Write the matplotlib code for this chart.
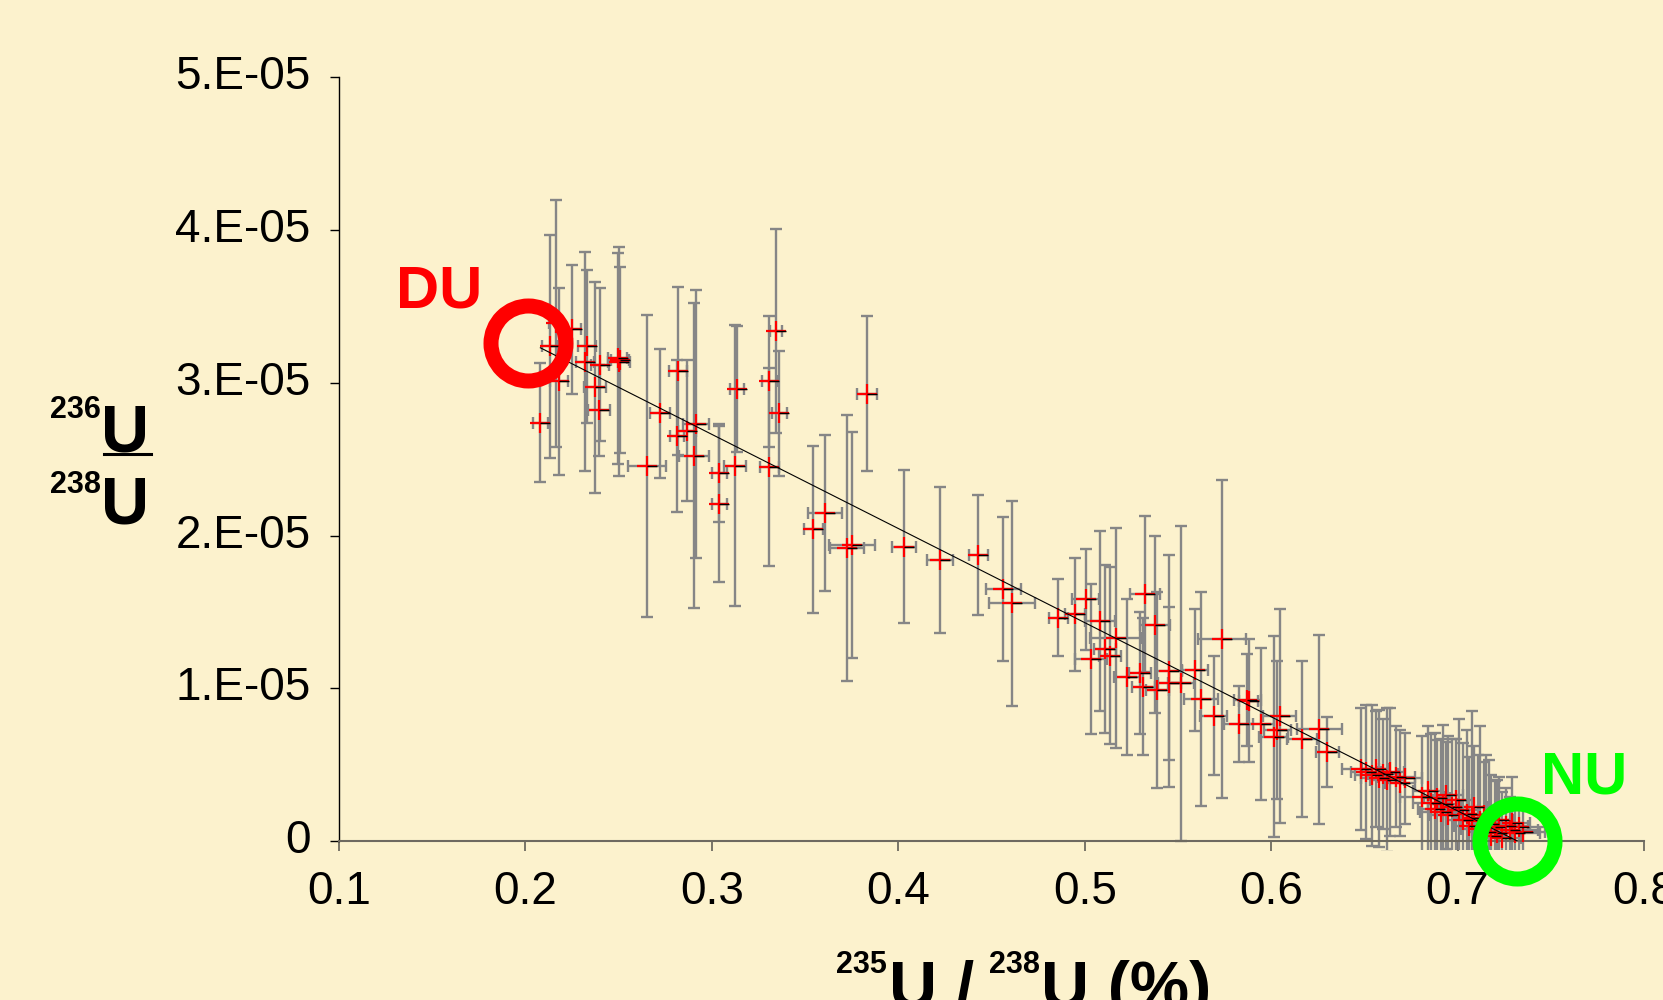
import numpy as np
import matplotlib
matplotlib.use("Agg")
import matplotlib.pyplot as plt
from matplotlib.lines import Line2D
from matplotlib.transforms import Bbox, TransformedBbox

plt.rcParams['font.family'] = ['Liberation Sans', 'DejaVu Sans']

# ---------------- data ----------------
# 235U/238U (%)
u235 = [0.208, 0.213, 0.2164, 0.218, 0.225, 0.233, 0.232, 0.240, 0.2373, 0.2395,
        0.2502, 0.2495, 0.2508, 0.2652, 0.2722, 0.2818, 0.2813, 0.2867, 0.2915, 0.2904,
        0.3039, 0.3039, 0.3124, 0.3135, 0.3307, 0.3309, 0.3344, 0.3362, 0.3831,
        0.3607, 0.3545, 0.3724, 0.3752, 0.4031, 0.4224, 0.443, 0.4564, 0.4609,
        0.4859, 0.4948, 0.5006, 0.5083, 0.5033, 0.5168, 0.5109, 0.5136, 0.5226, 0.5297,
        0.5324, 0.5315, 0.5378, 0.539, 0.5454, 0.5454, 0.5516, 0.5592, 0.5623, 0.5691,
        0.5736, 0.5825, 0.5873, 0.588, 0.5945, 0.6013, 0.6045, 0.6034, 0.6165, 0.6259, 0.6302,
        0.648, 0.651, 0.654, 0.656, 0.658, 0.660, 0.662, 0.664, 0.667, 0.669, 0.672,
        0.681, 0.684, 0.686, 0.688, 0.689, 0.691, 0.692, 0.694, 0.695, 0.697, 0.699,
        0.701, 0.703, 0.705, 0.706, 0.708, 0.709, 0.711, 0.712, 0.714, 0.715, 0.717,
        0.718, 0.720, 0.721, 0.722, 0.724,
        0.726, 0.728, 0.729, 0.731, 0.733, 0.735]
# 236U/238U in units of 1E-05
u236 = [2.74, 3.24, 3.39, 3.01, 3.35, 3.24, 3.14, 3.12, 2.97, 2.82,
        3.14, 3.16, 3.15, 2.456, 2.80, 3.08, 2.652, 2.687, 2.731, 2.523,
        2.412, 2.207, 2.456, 2.96, 3.01, 2.45, 3.34, 2.80, 2.93,
        2.146, 2.04, 1.917, 1.94, 1.927, 1.840, 1.873, 1.650, 1.557,
        1.463, 1.485, 1.583, 1.441, 1.192, 1.331, 1.257, 1.214, 1.076, 1.098,
        1.618, 1.011, 1.415, 0.989, 1.113, 1.033, 1.033, 1.12, 0.928, 0.819,
        1.321, 0.766, 0.923, 0.92, 0.766, 0.683, 0.819, 0.727, 0.666, 0.731, 0.585,
        0.47, 0.45, 0.43, 0.47, 0.41, 0.44, 0.40, 0.45, 0.42, 0.38, 0.41,
        0.29, 0.33, 0.25, 0.21, 0.28, 0.19, 0.24, 0.30, 0.17, 0.22, 0.27,
        0.20, 0.14, 0.18, 0.10, 0.15, 0.22, 0.08, 0.13, 0.17, 0.06, 0.11,
        0.03, 0.09, 0.05, 0.14, 0.02,
        0.10, 0.07, 0.12, 0.05, 0.09, 0.06]
u235_err = [0.004, 0.004, 0.004, 0.005, 0.005, 0.005, 0.005, 0.005, 0.006, 0.006,
            0.006, 0.005, 0.005, 0.010, 0.0055, 0.005, 0.004, 0.005, 0.007, 0.008,
            0.004, 0.004, 0.006, 0.004, 0.004, 0.005, 0.003, 0.004, 0.0054,
            0.009, 0.005, 0.009, 0.0125, 0.0063, 0.0072, 0.005, 0.0096, 0.0122,
            0.005, 0.0054, 0.0072, 0.008, 0.0085, 0.014, 0.006, 0.006, 0.007, 0.006,
            0.008, 0.006, 0.008, 0.006, 0.007, 0.006, 0.007, 0.007, 0.009, 0.007,
            0.013, 0.008, 0.007, 0.005, 0.007, 0.008, 0.009, 0.007, 0.008, 0.012, 0.006,
            0.010, 0.008, 0.009, 0.007, 0.010, 0.008, 0.009, 0.007, 0.010, 0.008, 0.009,
            0.012, 0.008, 0.010, 0.009, 0.007, 0.011, 0.008, 0.009, 0.010, 0.008, 0.009,
            0.010, 0.009, 0.011, 0.008, 0.010, 0.007, 0.009, 0.010, 0.008, 0.009, 0.011,
            0.008, 0.010, 0.009, 0.008, 0.010,
            0.012, 0.015, 0.010, 0.013, 0.016, 0.012]
u236_err = [0.39, 0.73, 0.81, 0.61, 0.42, 0.50, 0.72, 0.50, 0.69, 0.30,
            0.75, 0.69, 0.61, 0.99, 0.42, 0.55, 0.50, 0.46, 0.88, 1.00,
            0.32, 0.51, 0.92, 0.41, 0.43, 0.65, 0.67, 0.41, 0.51,
            0.51, 0.55, 0.87, 0.74, 0.50, 0.48, 0.39, 0.47, 0.67,
            0.25, 0.37, 0.33, 0.59, 0.49, 0.72, 0.55, 0.58, 0.51, 0.40,
            0.51, 0.45, 0.58, 0.64, 0.76, 0.50, 1.03, 0.40, 0.70, 0.39,
            1.04, 0.25, 0.30, 0.40, 0.50, 0.66, 0.70, 0.45, 0.51, 0.62, 0.23,
            0.40, 0.44, 0.46, 0.38, 0.45, 0.36, 0.47, 0.42, 0.33, 0.35, 0.30,
            0.40, 0.42, 0.45, 0.50, 0.38, 0.48, 0.52, 0.35, 0.52, 0.45, 0.40,
            0.60, 0.50, 0.55, 0.45, 0.70, 0.40, 0.48, 0.62, 0.35, 0.50, 0.42,
            0.40, 0.30, 0.35, 0.28, 0.30,
            0.25, 0.22, 0.30, 0.20, 0.18, 0.15]

# mixing line (trend line) end points
fit_x = [0.208, 0.732]
fit_y = [3.23, 0.0]

# reference compositions
du_pos = (0.2015, 3.26)
nu_pos = (0.732, 0.0)

x_ticks = [0.1, 0.2, 0.3, 0.4, 0.5, 0.6, 0.7, 0.8]
x_tick_labels = ['0.1', '0.2', '0.3', '0.4', '0.5', '0.6', '0.7', '0.8']
y_ticks = [0, 1, 2, 3, 4, 5]
y_tick_labels = ['0', '1.E-05', '2.E-05', '3.E-05', '4.E-05', '5.E-05']

# ---------------- figure ----------------
W, H = 1663, 1000
bg = '#FCF2CD'
fig = plt.figure(figsize=(W / 100, H / 100), dpi=100)
fig.patch.set_facecolor(bg)
ax_h = (841 - 77.5) / H
ax = fig.add_axes([339 / W, 1 - 841 / H, 1305 / W, ax_h])
ax.set_facecolor(bg)

# plot-area clip that lets marks spill ~9 px below the x axis, as in the original
clip_box = TransformedBbox(Bbox([[-0.02, -9.0 / (ax_h * H)], [1.02, 1.02]]), ax.transAxes)

eb = ax.errorbar(u235, u236, xerr=u235_err, yerr=u236_err, fmt='none',
                 ecolor='#868686', elinewidth=1.7, capsize=4.3, capthick=1.7, zorder=2)
for child in eb.get_children():
    child.set_clip_on(True)
    child.set_clip_box(clip_box)

ax.plot(u235, u236, linestyle='none', marker='+', markersize=14.4,
        markeredgewidth=1.6, color='#FF0000', zorder=3, clip_on=False)
ax.plot(u235, u236, linestyle='none', marker=[(0, 0), (1, 0)], markersize=14.4,
        markeredgewidth=1.0, markeredgecolor='black', markerfacecolor='black',
        zorder=4, clip_on=False)

ax.plot(fit_x, fit_y, color='black', linewidth=0.8, zorder=5)

ax.plot([du_pos[0]], [du_pos[1]], marker='o', markersize=54, markerfacecolor='none',
        markeredgecolor='#FF0000', markeredgewidth=10.8, zorder=6, clip_on=False)
ax.plot([nu_pos[0]], [nu_pos[1]], marker='o', markersize=54, markerfacecolor='none',
        markeredgecolor='#00FF00', markeredgewidth=10.8, zorder=6, clip_on=False)

ax.set_xlim(0.1, 0.8)
ax.set_ylim(0, 5)
ax.set_xticks(x_ticks)
ax.set_xticklabels(x_tick_labels)
ax.set_yticks(y_ticks)
ax.set_yticklabels(y_tick_labels)

for s in ('top', 'right'):
    ax.spines[s].set_visible(False)
ax.spines['left'].set_color('black')
ax.spines['left'].set_linewidth(1.0)
ax.spines['bottom'].set_color('#6E6A60')
ax.spines['bottom'].set_linewidth(1.5)

ax.tick_params(axis='y', direction='out', length=6.5, width=1.0, color='black',
               labelsize=33, pad=14, labelcolor='black')
ax.tick_params(axis='x', direction='out', length=7, width=1.3, color='#6E6A60',
               labelsize=33, pad=14, labelcolor='black')
for lab in ax.get_yticklabels():
    lab.set_verticalalignment('center')


def ftext(px, py, s, **kw):
    fig.text(px / W, 1 - py / H, s, ha='left', va='baseline', **kw)


# DU / NU labels
ftext(396, 308, 'DU', fontsize=43, fontweight='bold', color='#FF0000')
ftext(1541, 793, 'NU', fontsize=43, fontweight='bold', color='#00FF00')

# y label: 236U over 238U
ftext(50, 418, '236', fontsize=22, fontweight='bold', color='black')
ftext(101, 452, 'U', fontsize=48, fontweight='bold', color='black')
ftext(50, 493, '238', fontsize=22, fontweight='bold', color='black')
ftext(101, 524, 'U', fontsize=48, fontweight='bold', color='black')
fig.add_artist(Line2D([104 / W, 151 / W], [1 - 453.5 / H, 1 - 453.5 / H],
                      color='black', linewidth=2.2))

# x label: 235U / 238U (%)
ftext(836, 973, '235', fontsize=22, fontweight='bold', color='black')
ftext(889, 1008, 'U /', fontsize=48, fontweight='bold', color='black')
ftext(989, 973, '238', fontsize=22, fontweight='bold', color='black')
ftext(1041, 1008, 'U (%)', fontsize=48, fontweight='bold', color='black')

fig.savefig('out.png', dpi=100, facecolor=bg)
